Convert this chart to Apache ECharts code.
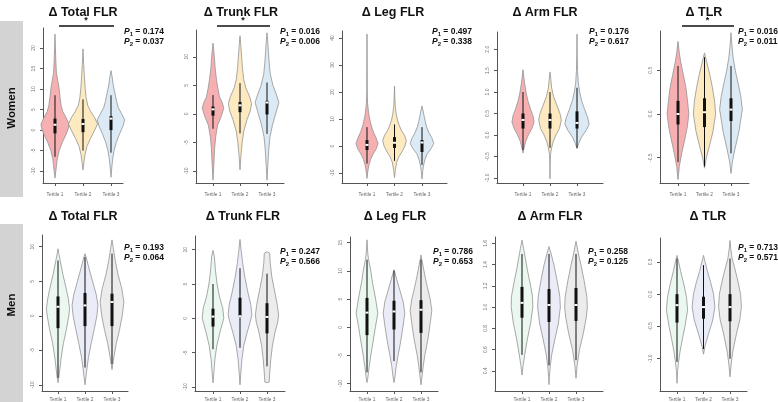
<!DOCTYPE html>
<html>
<head>
<meta charset="utf-8">
<script src="https://cdn.jsdelivr.net/npm/echarts@6/dist/echarts.min.js"></script>
<style>
  html, body { margin: 0; padding: 0; background: #fff; }
  #chart { width: 778px; height: 402px; }
</style>
</head>
<body>
<div id="chart"></div>
<script>
const tertiles = ['Tertile 1', 'Tertile 2', 'Tertile 3']
const titles = ['Δ Total FLR', 'Δ Trunk FLR', 'Δ Leg FLR', 'Δ Arm FLR', 'Δ TLR']
const groups = ['Women', 'Men']
const p1Women = ['0.174', '0.016', '0.497', '0.176', '0.016']
const p2Women = ['0.037', '0.006', '0.338', '0.617', '0.011']
const p1Men = ['0.193', '0.247', '0.786', '0.258', '0.713']
const p2Men = ['0.064', '0.566', '0.653', '0.125', '0.571']
const sigWomen = [true, true, false, false, true]  // tertile 1 vs 3 bar with *
const sigMen = [false, false, false, false, false]

// y tick labels
const ticksTotalW = [-10, -5, 0, 5, 10, 15, 20]
const ticksTrunkW = [-10, -5, 0, 5, 10]
const ticksLegW = [-10, 0, 10, 20, 30, 40]
const ticksArmW = [-1, -0.5, 0, 0.5, 1, 1.5, 2]
const ticksTlrW = [-0.5, 0, 0.5]
const ticksTotalM = [-10, -5, 0, 5, 10]
const ticksTrunkM = [-10, -5, 0, 5, 10]
const ticksLegM = [-10, -5, 0, 5, 10, 15]
const ticksArmM = [0.4, 0.6, 0.8, 1.0, 1.2, 1.4, 1.6]
const ticksTlrM = [-1, -0.5, 0, 0.5]

// violin outlines: [value, half width in tertile units], bottom to top
const violinTotalW = [
  [[-11.7, 0], [-10, 0.03], [-7, 0.08], [-5, 0.15], [-3, 0.26], [-1, 0.4], [0.5, 0.48], [1.5, 0.5], [3, 0.4], [4.5, 0.28], [6, 0.22], [8, 0.18], [10, 0.15], [12, 0.1], [14, 0.05], [17, 0.03], [20, 0.015], [23.4, 0]],
  [[-9.7, 0], [-8, 0.03], [-6, 0.07], [-4, 0.14], [-2, 0.27], [0, 0.42], [1.5, 0.52], [3, 0.42], [4.5, 0.28], [6, 0.17], [8, 0.11], [10, 0.08], [13, 0.05], [16, 0.025], [19.8, 0]],
  [[-11.5, 0], [-9, 0.03], [-7, 0.06], [-5, 0.11], [-3, 0.19], [-1, 0.3], [1, 0.43], [2.5, 0.49], [4, 0.38], [5.5, 0.26], [7, 0.2], [9, 0.14], [11, 0.08], [13, 0.04], [14.5, 0]]
]
const violinTrunkW = [
  [[-11.6, 0], [-9, 0.03], [-6, 0.06], [-4, 0.1], [-2, 0.17], [-0.5, 0.3], [1, 0.4], [2, 0.34], [3, 0.24], [4.5, 0.18], [6, 0.13], [8, 0.08], [10, 0.05], [12.4, 0]],
  [[-9.8, 0], [-7, 0.04], [-5, 0.08], [-3, 0.14], [-1, 0.26], [0.5, 0.38], [1.8, 0.43], [3, 0.36], [4.5, 0.22], [6, 0.14], [8, 0.09], [10, 0.06], [12, 0.03], [13.7, 0]],
  [[-11.6, 0], [-9, 0.03], [-6, 0.07], [-4, 0.11], [-2, 0.2], [0, 0.32], [2, 0.44], [3.5, 0.34], [5, 0.22], [7, 0.12], [9, 0.08], [11, 0.05], [12.5, 0.03], [14.2, 0]]
]
const violinLegW = [
  [[-12, 0], [-10, 0.02], [-7, 0.07], [-5, 0.13], [-3, 0.22], [-1, 0.34], [1, 0.4], [3, 0.33], [5, 0.24], [7, 0.17], [9, 0.12], [11, 0.08], [13, 0.05], [16, 0.02], [20, 0.008], [30, 0.004], [41.5, 0]],
  [[-11.7, 0], [-9, 0.03], [-6, 0.08], [-4, 0.16], [-2, 0.28], [0, 0.38], [2, 0.43], [4, 0.36], [6, 0.24], [8, 0.16], [10, 0.1], [12, 0.06], [15, 0.025], [18, 0.012], [22.2, 0]],
  [[-12.2, 0], [-9, 0.03], [-7, 0.06], [-5, 0.11], [-3, 0.18], [-1, 0.33], [1, 0.43], [3, 0.36], [5, 0.25], [7, 0.17], [9, 0.12], [11, 0.08], [13, 0.04], [14.8, 0]]
]
const violinArmW = [
  [[-0.42, 0], [-0.3, 0.04], [-0.15, 0.1], [0, 0.2], [0.15, 0.33], [0.3, 0.41], [0.45, 0.37], [0.6, 0.28], [0.8, 0.18], [1.0, 0.11], [1.2, 0.06], [1.35, 0.03], [1.52, 0]],
  [[-1.02, 0], [-0.7, 0.005], [-0.45, 0.02], [-0.3, 0.06], [-0.15, 0.12], [0, 0.22], [0.15, 0.35], [0.35, 0.42], [0.5, 0.37], [0.7, 0.25], [0.9, 0.13], [1.1, 0.06], [1.3, 0.03], [1.47, 0]],
  [[-0.32, 0], [-0.2, 0.06], [-0.05, 0.17], [0.1, 0.33], [0.25, 0.45], [0.4, 0.4], [0.6, 0.28], [0.8, 0.17], [1.0, 0.1], [1.2, 0.05], [1.5, 0.02], [1.9, 0.008], [2.35, 0]]
]
const violinTlrW = [
  [[-0.75, 0], [-0.6, 0.05], [-0.45, 0.14], [-0.3, 0.25], [-0.15, 0.35], [0, 0.41], [0.15, 0.36], [0.3, 0.3], [0.45, 0.2], [0.6, 0.1], [0.7, 0.05], [0.83, 0]],
  [[-0.62, 0], [-0.5, 0.07], [-0.35, 0.2], [-0.2, 0.32], [0, 0.42], [0.15, 0.38], [0.3, 0.3], [0.45, 0.2], [0.55, 0.12], [0.7, 0]],
  [[-0.68, 0], [-0.55, 0.05], [-0.4, 0.15], [-0.2, 0.3], [0, 0.4], [0.05, 0.43], [0.2, 0.37], [0.35, 0.27], [0.5, 0.16], [0.65, 0.08], [0.8, 0.03], [0.93, 0]]
]
const violinTotalM = [
  [[-9.7, 0], [-9, 0.03], [-8, 0.06], [-6, 0.12], [-4, 0.2], [-2, 0.31], [0, 0.4], [1, 0.43], [2.5, 0.38], [4, 0.3], [6, 0.18], [8, 0.08], [9, 0.03], [9.7, 0]],
  [[-10, 0], [-9, 0.03], [-8, 0.06], [-6, 0.13], [-4, 0.23], [-2, 0.34], [0, 0.44], [1.5, 0.48], [3, 0.42], [5, 0.28], [7, 0.14], [8.5, 0.04], [9, 0]],
  [[-7.8, 0], [-7, 0.03], [-6, 0.07], [-4, 0.16], [-2, 0.28], [0, 0.38], [2, 0.44], [4, 0.36], [6, 0.22], [8, 0.12], [10, 0.04], [11, 0]]
]
const violinTrunkM = [
  [[-9.4, 0], [-8, 0.03], [-6, 0.07], [-4, 0.14], [-2, 0.26], [0, 0.4], [1.5, 0.36], [3, 0.25], [5, 0.15], [7, 0.09], [9, 0.05], [9.9, 0]],
  [[-9.7, 0], [-8, 0.03], [-6, 0.07], [-4, 0.14], [-2, 0.27], [-0.5, 0.38], [0.5, 0.44], [2, 0.4], [4, 0.28], [6, 0.18], [8, 0.1], [10, 0.04], [11.5, 0]],
  [[-9.4, 0], [-9.3, 0.08], [-8, 0.1], [-6, 0.14], [-4, 0.2], [-2, 0.3], [-0.5, 0.4], [0.5, 0.43], [2, 0.38], [4, 0.28], [6, 0.18], [8, 0.12], [9.5, 0.1], [9.7, 0]]
]
const violinLegM = [
  [[-9.8, 0], [-9, 0.03], [-7, 0.08], [-5, 0.14], [-3, 0.21], [0, 0.31], [2.5, 0.4], [5, 0.32], [8, 0.2], [10, 0.14], [12, 0.06], [13, 0.03], [15.5, 0]],
  [[-9.8, 0], [-9, 0.03], [-7, 0.08], [-5, 0.15], [-3, 0.23], [0, 0.33], [2.5, 0.4], [4.5, 0.34], [6.5, 0.22], [8.5, 0.1], [10.2, 0]],
  [[-10.2, 0], [-9, 0.03], [-7, 0.08], [-5, 0.14], [-2, 0.26], [1, 0.35], [3, 0.4], [5, 0.34], [7, 0.24], [9, 0.15], [11, 0.07], [12.8, 0]]
]
const violinArmM = [
  [[0.36, 0], [0.45, 0.04], [0.55, 0.1], [0.7, 0.2], [0.85, 0.32], [1.0, 0.4], [1.1, 0.39], [1.2, 0.32], [1.35, 0.2], [1.45, 0.13], [1.55, 0.06], [1.63, 0]],
  [[0.27, 0], [0.35, 0.015], [0.45, 0.05], [0.55, 0.1], [0.7, 0.22], [0.85, 0.35], [1.0, 0.42], [1.1, 0.4], [1.25, 0.3], [1.4, 0.18], [1.5, 0.08], [1.57, 0]],
  [[0.33, 0], [0.45, 0.04], [0.6, 0.13], [0.75, 0.27], [0.9, 0.38], [1.0, 0.42], [1.1, 0.4], [1.25, 0.3], [1.4, 0.18], [1.5, 0.09], [1.62, 0]]
]
const violinTlrM = [
  [[-1.38, 0], [-1.2, 0.02], [-1.05, 0.06], [-0.9, 0.11], [-0.7, 0.2], [-0.5, 0.3], [-0.25, 0.4], [-0.05, 0.36], [0.15, 0.26], [0.35, 0.14], [0.5, 0.06], [0.6, 0]],
  [[-0.93, 0], [-0.8, 0.06], [-0.6, 0.2], [-0.4, 0.35], [-0.2, 0.43], [0, 0.38], [0.2, 0.26], [0.35, 0.15], [0.5, 0.06], [0.6, 0]],
  [[-1.28, 0], [-1.1, 0.04], [-0.9, 0.1], [-0.6, 0.25], [-0.4, 0.37], [-0.2, 0.43], [0, 0.4], [0.2, 0.3], [0.4, 0.18], [0.55, 0.08], [0.7, 0.03], [0.83, 0]]
]

// box stats: [lower whisker, q1, median, q3, upper whisker]
const boxTotalW = [[-6.5, -0.8, 1.3, 2.8, 8.5], [-5, -0.5, 1.5, 2.7, 7.5], [-5.5, 0, 2.8, 3.4, 8.5]]
const boxTrunkW = [[-2.6, -0.3, 0.8, 1.3, 3.3], [-3.4, 0.3, 1.5, 2.1, 5.4], [-3.5, -0.1, 2.0, 2.3, 5.5]]
const boxLegW = [[-6.5, -1.5, 0.4, 2.2, 7], [-5.5, -0.7, 1.2, 3.3, 8], [-7, -2.2, 1.3, 2.2, 7]]
const boxArmW = [[-0.35, 0.15, 0.35, 0.5, 1.0], [-0.3, 0.15, 0.35, 0.5, 1.0], [-0.3, 0.15, 0.28, 0.55, 1.1]]
const boxTlrW = [[-0.55, -0.12, 0.0, 0.15, 0.55], [-0.6, -0.15, 0.02, 0.18, 0.65], [-0.45, -0.08, 0.05, 0.18, 0.55]]
const boxTotalM = [[-9, -1.8, 1.3, 2.8, 8], [-7.5, -1.5, 1.5, 3.3, 8.5], [-7, -1.5, 2.0, 3.2, 9]]
const boxTrunkM = [[-4.5, -1.2, 0.25, 1.4, 5], [-4.3, 0.2, 0.3, 3.0, 7.3], [-7, -2.2, 0.2, 2.2, 6.5]]
const boxLegM = [[-8, -1.4, 2.6, 5.2, 12], [-6, -0.4, 2.8, 4.7, 10], [-8, -1, 3.1, 4.8, 12]]
const boxArmM = [[0.55, 0.9, 1.04, 1.19, 1.5], [0.45, 0.86, 1.02, 1.17, 1.5], [0.5, 0.87, 1.02, 1.18, 1.5]]
const boxTlrM = [[-1.05, -0.44, -0.17, 0.0, 0.55], [-0.85, -0.38, -0.2, -0.04, 0.45], [-1.0, -0.42, -0.2, 0.0, 0.55]]

const fillsWomen = ['#f6b0b2', '#fdeac0', '#dbeaf5']
const fillsMen = ['#eaf8f0', '#eaecf8', '#ececec']

// layout of every panel (pixels) and axis range
const panels = [
  { gx: 43, c1: 55, c3: 111, top: 28, bottom: 183, min: -12.9, max: 24.9, ticks: ticksTotalW, dec: 0, v: violinTotalW, b: boxTotalW },
  { gx: 196, c1: 213, c3: 267, top: 30, bottom: 183, min: -12.1, max: 14.7, ticks: ticksTrunkW, dec: 0, v: violinTrunkW, b: boxTrunkW },
  { gx: 342, c1: 367, c3: 422, top: 31, bottom: 183, min: -13.7, max: 42.6, ticks: ticksLegW, dec: 0, v: violinLegW, b: boxLegW },
  { gx: 497, c1: 523, c3: 577, top: 32, bottom: 183, min: -1.12, max: 2.4, ticks: ticksArmW, dec: 1, v: violinArmW, b: boxArmW },
  { gx: 660, c1: 678, c3: 731, top: 31, bottom: 183, min: -0.79, max: 0.95, ticks: ticksTlrW, dec: 1, v: violinTlrW, b: boxTlrW },
  { gx: 42, c1: 58, c3: 112, top: 235, bottom: 391, min: -10.9, max: 11.7, ticks: ticksTotalM, dec: 0, v: violinTotalM, b: boxTotalM },
  { gx: 195, c1: 213, c3: 267, top: 236, bottom: 391, min: -10.6, max: 12.0, ticks: ticksTrunkM, dec: 0, v: violinTrunkM, b: boxTrunkM },
  { gx: 350, c1: 367, c3: 421, top: 237, bottom: 391, min: -11.3, max: 16.0, ticks: ticksLegM, dec: 0, v: violinLegM, b: boxLegM },
  { gx: 495, c1: 522, c3: 576, top: 237, bottom: 391, min: 0.21, max: 1.66, ticks: ticksArmM, dec: 1, v: violinArmM, b: boxArmM },
  { gx: 660, c1: 677, c3: 730, top: 238, bottom: 391, min: -1.5, max: 0.87, ticks: ticksTlrM, dec: 1, v: violinTlrM, b: boxTlrM }
]
const titleX = [83, 241, 393, 545, 704, 83, 243, 395, 550, 708]
const pX = [124, 280, 432, 589, 738, 124, 280, 433, 588, 738]
const pY = [32, 32, 32, 32, 32, 248, 252, 252, 252, 248]

const chart = echarts.init(document.getElementById('chart'))
const grid = []
const xAxis = []
const yAxis = []
const series = []
const graphic = []
const axisColor = '#555'

panels.forEach((p, k) => {
  const women = k < 5
  const sp = (p.c3 - p.c1) / 2
  const d = (p.c1 - p.gx) / sp
  grid.push({ left: p.gx, top: p.top, width: (2 + 2 * d) * sp, height: p.bottom - p.top })
  xAxis.push({
    gridIndex: k,
    type: 'value',
    min: 1 - d,
    max: 3 + d,
    splitLine: { show: false },
    axisLine: { show: true, onZero: false, lineStyle: { color: axisColor, width: 1 } },
    axisTick: { show: true, customValues: [1, 2, 3], length: 3, lineStyle: { color: axisColor } },
    axisLabel: {
      customValues: [1, 2, 3],
      formatter: v => tertiles[Math.round(v) - 1],
      fontSize: 4.8,
      color: '#666',
      margin: women ? 9 : 6,
      fontFamily: 'Liberation Sans'
    }
  })
  yAxis.push({
    gridIndex: k,
    type: 'value',
    min: p.min,
    max: p.max,
    splitLine: { show: false },
    axisLine: { show: true, onZero: false, lineStyle: { color: axisColor, width: 1 } },
    axisTick: { show: true, customValues: p.ticks, length: 3, lineStyle: { color: axisColor } },
    axisLabel: {
      customValues: p.ticks,
      formatter: v => Number(v).toFixed(p.dec),
      rotate: 90,
      fontSize: 5,
      color: '#777',
      margin: 7,
      fontFamily: 'Liberation Sans'
    }
  })
  const fills = women ? fillsWomen : fillsMen
  series.push({
    type: 'custom',
    xAxisIndex: k,
    yAxisIndex: k,
    silent: true,
    data: [[1, 0], [2, 0], [3, 0]],
    renderItem: (params, api) => {
      const i = params.dataIndex
      const x = i + 1
      const shape = p.v[i]
      const pts = []
      shape.forEach(s => pts.push(api.coord([x - s[1], s[0]])))
      for (let j = shape.length - 1; j >= 0; j--) {
        pts.push(api.coord([x + shape[j][1], shape[j][0]]))
      }
      const b = p.b[i]
      const lo = api.coord([x, b[0]])
      const q1 = api.coord([x, b[1]])
      const md = api.coord([x, b[2]])
      const q3 = api.coord([x, b[3]])
      const hi = api.coord([x, b[4]])
      return {
        type: 'group',
        children: [
          { type: 'polygon', shape: { points: pts }, style: { fill: fills[i], stroke: '#939393', lineWidth: 0.8, lineJoin: 'round' } },
          { type: 'line', shape: { x1: lo[0], y1: lo[1], x2: hi[0], y2: hi[1] }, style: { stroke: '#111', lineWidth: 1 } },
          { type: 'rect', shape: { x: q3[0] - 1.5, y: q3[1], width: 3, height: q1[1] - q3[1] }, style: { fill: '#111' } },
          { type: 'rect', shape: { x: md[0] - 1.5, y: md[1] - 1, width: 3, height: 2 }, style: { fill: '#fff' } }
        ]
      }
    }
  })

  // panel title
  graphic.push({
    type: 'text', x: titleX[k], y: women ? 13 : 217,
    style: { text: titles[k % 5], font: 'bold 12.5px Liberation Sans', fill: '#111', textAlign: 'center', textVerticalAlign: 'middle' }
  })
  // p values
  const p1 = women ? p1Women[k] : p1Men[k - 5]
  const p2 = women ? p2Women[k] : p2Men[k - 5]
  const rich = {
    p: { fontStyle: 'italic', fontWeight: 'bold', fontSize: 8.5, fontFamily: 'Liberation Sans', fill: '#111' },
    s: { fontWeight: 'bold', fontSize: 6, fontFamily: 'Liberation Sans', padding: [5, 0, 0, 0], fill: '#111' },
    v: { fontWeight: 'bold', fontSize: 8.5, fontFamily: 'Liberation Sans', fill: '#111' }
  }
  graphic.push({ type: 'text', x: pX[k], y: pY[k], style: { text: '{p|P}{s|1}{v| = ' + p1 + '}', rich: rich, textVerticalAlign: 'middle' } })
  graphic.push({ type: 'text', x: pX[k], y: pY[k] + 10, style: { text: '{p|P}{s|2}{v| = ' + p2 + '}', rich: rich, textVerticalAlign: 'middle' } })

  // significance bar between tertile 1 and 3
  const sig = women ? sigWomen[k] : sigMen[k - 5]
  if (sig) {
    const by = women ? 26 : 231
    graphic.push({ type: 'line', shape: { x1: p.c1 + 4, y1: by, x2: p.c3 + 3, y2: by }, style: { stroke: '#111', lineWidth: 1.3 } })
    graphic.push({ type: 'text', x: (p.c1 + p.c3) / 2 + 3, y: by - 5, style: { text: '*', font: 'bold 9px Liberation Sans', fill: '#111', textAlign: 'center', textVerticalAlign: 'middle' } })
  }
})

// gray row labels on the left
groups.forEach((g, r) => {
  const y0 = r === 0 ? 21 : 224
  const h = r === 0 ? 176 : 178
  graphic.push({ type: 'rect', shape: { x: 0, y: y0, width: 23, height: h }, style: { fill: '#d3d3d3' } })
  graphic.push({
    type: 'text', x: 12, y: r === 0 ? 108 : 305, rotation: Math.PI / 2,
    style: { text: g, font: 'bold 11.5px Liberation Sans', fill: '#111', textAlign: 'center', textVerticalAlign: 'middle' }
  })
})

chart.setOption({
  animation: false,
  backgroundColor: '#fff',
  grid: grid,
  xAxis: xAxis,
  yAxis: yAxis,
  series: series,
  graphic: graphic
})
</script>
</body>
</html>
